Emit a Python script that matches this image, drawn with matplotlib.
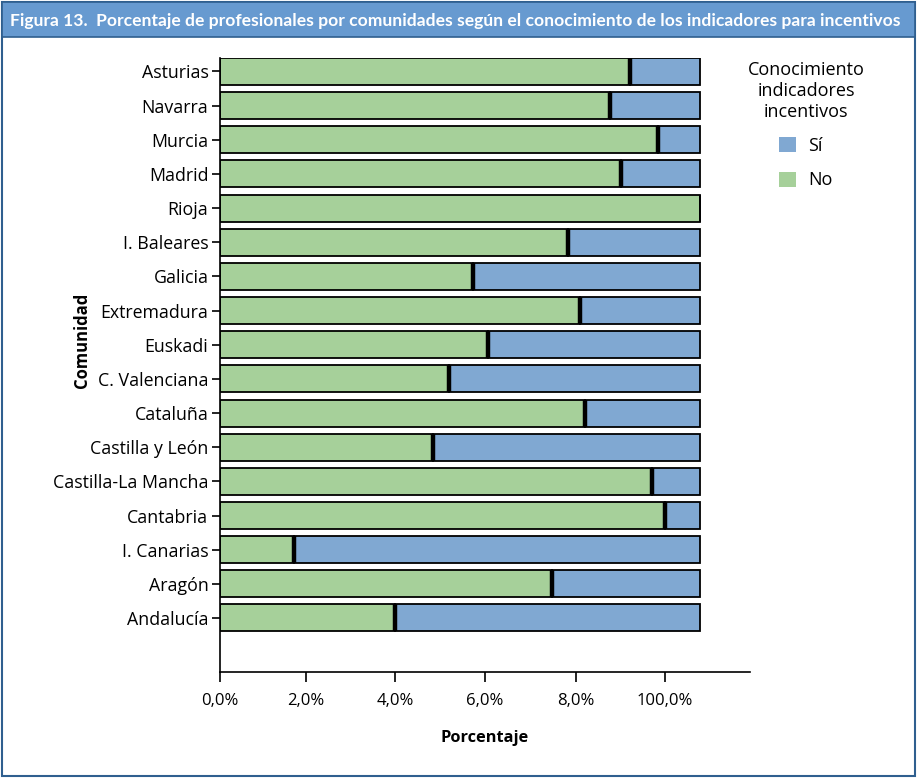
import numpy as np
import matplotlib
matplotlib.use("Agg")
from matplotlib import pyplot as plt
from matplotlib.patches import Rectangle, Patch

comunidades = ['Asturias', 'Navarra', 'Murcia', 'Madrid', 'Rioja', 'I. Baleares',
               'Galicia', 'Extremadura', 'Euskadi', 'C. Valenciana', 'Cataluña',
               'Castilla y León', 'Castilla-La Mancha', 'Cantabria', 'I. Canarias',
               'Aragón', 'Andalucía']
pct_no = [85.6, 81.3, 91.3, 83.6, 100.0, 72.5, 52.9, 75.0, 56.0, 47.7, 76.2,
          44.5, 90.0, 92.7, 15.6, 69.3, 36.5]
pct_si = [100 - v for v in pct_no]

# tick positions as printed on the original (odd labels kept as is)
xtick_pos = [0, 18.0, 36.6, 55.2, 74.2, 92.7]
xtick_lab = ['0,0%', '2,0%', '4,0%', '6,0%', '8,0%', '100,0%']

verde = '#a6d09a'
azul = '#80a8d2'

plt.rcParams['font.family'] = ['Open Sans', 'DejaVu Sans']

fig = plt.figure(figsize=(9.17, 7.78), dpi=100)

# header band and outer frame
fig.patches.append(Rectangle((0.002, 0.002), 0.996, 0.996, transform=fig.transFigure,
                             fill=False, edgecolor='#2f5f8f', linewidth=1.5))
fig.patches.append(Rectangle((0.002, 1 - 37 / 778), 0.996, 35 / 778, transform=fig.transFigure,
                             facecolor='#679ad0', edgecolor='#2f5f8f', linewidth=1.2))
fig.text(0.011, 1 - 21 / 778, 'Figura 13.  Porcentaje de profesionales por comunidades según el conocimiento de los indicadores para incentivos',
         color='white', fontsize=12.6, fontweight='bold', va='center', ha='left',
         family=['Lato', 'DejaVu Sans'])

ax = fig.add_axes([219.5 / 917, 1 - 672.3 / 778, (750 - 219.5) / 917, (672.3 - 58) / 778])

y = np.arange(len(comunidades))
h = 0.79
ax.barh(y, pct_no, height=h, color=verde, edgecolor='black', linewidth=1.3)
ax.barh(y, pct_si, left=pct_no, height=h, color=azul, edgecolor='black', linewidth=1.3)
for yi, n, s in zip(y, pct_no, pct_si):
    if s > 0:
        ax.vlines(n, yi - h / 2, yi + h / 2, color='black', linewidth=3.2)

ax.set_ylim(len(comunidades) - 1 + 1.59, -h / 2)
ax.set_xlim(0, 110.5)
ax.set_yticks(y)
ax.set_yticklabels(comunidades, fontsize=12.8)
ax.set_xticks(xtick_pos)
ax.set_xticklabels(xtick_lab, fontsize=12)
ax.tick_params(axis='y', length=6, width=1.2, pad=2)
ax.tick_params(axis='x', length=7, width=1.2, pad=8)
for sp in ['top', 'right']:
    ax.spines[sp].set_visible(False)
for sp in ['left', 'bottom']:
    ax.spines[sp].set_linewidth(1.2)

ax.set_xlabel('Porcentaje', fontsize=11.8, fontweight='bold', labelpad=15)
fig.text(82 / 917, 1 - 340 / 778, 'Comunidad', rotation=90, fontsize=12,
         fontweight='bold', ha='center', va='center')

handles = [Patch(facecolor=azul, edgecolor='none', label='Sí'),
           Patch(facecolor=verde, edgecolor='none', label='No')]
leg = fig.legend(handles=handles, title='Conocimiento\nindicadores\nincentivos',
                 loc='upper center', bbox_to_anchor=(806 / 917, 1 - 45 / 778),
                 frameon=False, fontsize=13, title_fontsize=13,
                 handlelength=0.9, handleheight=0.9, handletextpad=0.7,
                 labelspacing=0.9)
leg.get_title().set_multialignment('center')
leg._legend_box.align = 'center'

fig.savefig('out.png', dpi=100)
